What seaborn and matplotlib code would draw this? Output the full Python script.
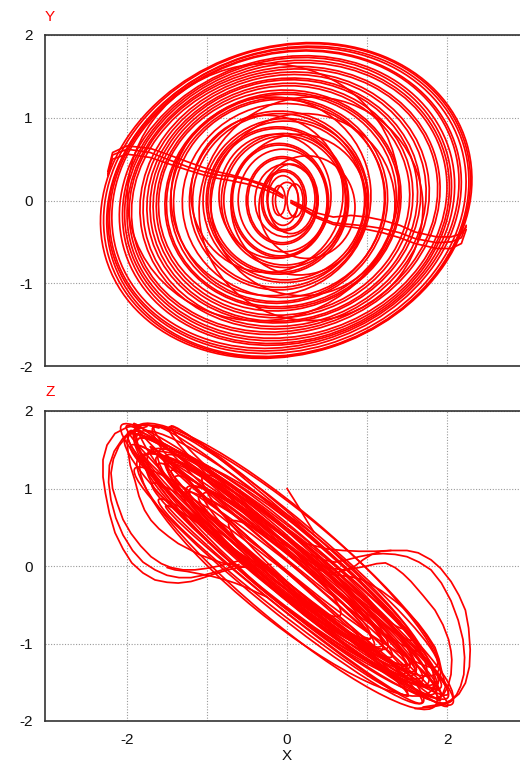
import matplotlib
matplotlib.use("Agg")
import matplotlib.pyplot as plt
from matplotlib.patches import Ellipse
import seaborn as sns

# ---------------- data ----------------
# Y vs X panel: orbit loops  (centre x, centre y, semi-axis a, semi-axis b, tilt deg)
yx_cx = [-0.01, 0.00, 0.01, 0.00, -0.02, -0.02, 0.00, 0.00, 0.00, 0.00,
         -0.03, -0.03, -0.03, -0.03, -0.04, -0.04, -0.05, -0.05, -0.09, -0.06,
         -0.07, -0.10, -0.10, -0.04, -0.10, -0.10, -0.02, -0.02, -0.11, -0.11,
         -0.03, -0.03, -0.09, -0.09, -0.05, -0.06, -0.06, -0.01, -0.04, -0.04,
         -0.05, 0.00, 0.15, 0.20, -0.20, -0.15, 0.10, -0.10, 0.05, 0.25,
         -0.25, 0.30, -0.30]
yx_cy = [0.00, 0.00, -0.01, 0.00, 0.00, 0.01, 0.00, 0.00, 0.00, 0.00,
         0.00, 0.00, 0.00, 0.00, 0.00, 0.00, 0.00, 0.00, 0.00, 0.00,
         0.00, 0.00, 0.00, 0.00, 0.00, 0.00, 0.00, 0.00, 0.00, 0.00,
         0.00, 0.00, 0.00, 0.00, 0.00, 0.00, 0.00, 0.00, 0.00, 0.00,
         0.00, 0.00, -0.05, -0.05, 0.05, 0.05, 0.00, 0.00, 0.02, -0.08,
         0.08, -0.10, 0.10]
yx_a = [2.36, 2.33, 2.30, 2.27, 2.23, 2.20, 2.12, 2.08, 2.05, 2.02,
        1.96, 1.93, 1.82, 1.78, 1.72, 1.68, 1.63, 1.59, 1.52, 1.47,
        1.44, 1.36, 1.32, 1.27, 1.12, 1.08, 1.03, 0.99, 0.88, 0.85,
        0.79, 0.76, 0.61, 0.59, 0.56, 0.45, 0.43, 0.39, 0.28, 0.26,
        0.19, 0.145, 0.85, 1.15, 1.25, 0.70, 0.10, 0.08, 0.30, 0.60,
        0.95, 1.40, 1.70]
yx_b = [1.86, 1.85, 1.83, 1.81, 1.78, 1.76, 1.72, 1.70, 1.67, 1.64,
        1.60, 1.57, 1.54, 1.51, 1.47, 1.45, 1.41, 1.38, 1.33, 1.30,
        1.28, 1.24, 1.22, 1.17, 1.08, 1.05, 0.99, 0.96, 0.89, 0.87,
        0.81, 0.78, 0.69, 0.67, 0.62, 0.53, 0.51, 0.44, 0.37, 0.35,
        0.30, 0.22, 0.85, 1.10, 1.20, 0.75, 0.20, 0.18, 0.42, 0.62,
        0.95, 1.35, 1.55]
yx_tilt = [17, 17, 17, 16, 16, 16, 15, 15, 14, 14,
           13, 13, 12, 12, 11, 11, 10, 10, 9, 9,
           9, 8, 8, 7, 6, 6, 5, 5, 4, 4,
           4, 4, 3, 3, 2, 0, 0, 0, 0, 0,
           0, 0, 0, 5, 6, 0, 0, 0, 0, 0,
           3, 8, 10]

# Y vs X panel: reinjection strands
yx_s_left_x = [-2.24, -2.18, -2.00, -1.71, -1.50, -1.25, -1.05, -0.88, -0.70, -0.50, -0.30, -0.15, -0.05]
yx_s_left_y = [0.30, 0.55, 0.62, 0.58, 0.50, 0.41, 0.35, 0.31, 0.29, 0.25, 0.18, 0.11, 0.05]
yx_s_left2_y = [0.32, 0.50, 0.56, 0.52, 0.45, 0.37, 0.31, 0.27, 0.24, 0.20, 0.14, 0.08, 0.03]
yx_s_left3_y = [0.35, 0.58, 0.66, 0.63, 0.56, 0.47, 0.40, 0.35, 0.31, 0.26, 0.20, 0.13, 0.06]
yx_s_right_x = [2.24, 2.18, 2.05, 1.87, 1.60, 1.41, 1.20, 1.00, 0.80, 0.58, 0.37, 0.16, 0.05]
yx_s_right_y = [-0.30, -0.45, -0.50, -0.51, -0.46, -0.39, -0.34, -0.31, -0.29, -0.27, -0.19, -0.07, -0.02]
yx_s_right2_y = [-0.32, -0.40, -0.44, -0.44, -0.38, -0.30, -0.24, -0.20, -0.18, -0.20, -0.15, -0.05, 0.00]
yx_s_right3_y = [-0.35, -0.52, -0.58, -0.58, -0.52, -0.45, -0.39, -0.35, -0.32, -0.29, -0.21, -0.09, -0.03]

# Z vs X panel: orbit loops along the band (centre x, centre z, semi-major, semi-minor, angle deg)
zx_cx = [0.00, 0.00, 0.02, 0.00, -0.03, 0.03, 0.00, 0.00, -0.05, 0.05,
         0.00, 0.00, 0.03, 0.00, 0.00, -0.02, 0.02, 0.10, -0.10, 0.15,
         -0.15, 0.20, -0.20, 0.10, -0.10, 0.00, -0.40, 0.40, -0.60, 0.60,
         0.00, 0.00, 0.00, 0.00, 0.10, -0.10, 0.00, 0.00, 0.05, -0.05,
         0.00, 0.00]
zx_cz = [0.02, 0.00, -0.03, 0.05, 0.00, -0.05, 0.04, -0.02, 0.06, -0.06,
         0.00, 0.03, -0.04, 0.05, -0.03, 0.02, 0.00, -0.10, 0.10, -0.12,
         0.12, -0.20, 0.15, 0.05, -0.05, 0.00, 0.35, -0.35, 0.50, -0.50,
         0.35, -0.35, 0.50, -0.45, 0.25, -0.25, 0.15, -0.10, 0.42, -0.40,
         0.20, -0.20]
zx_major = [2.74, 2.70, 2.66, 2.62, 2.58, 2.55, 2.50, 2.45, 2.40, 2.35,
            2.30, 2.25, 2.20, 2.15, 2.10, 2.05, 2.00, 1.95, 1.90, 1.80,
            1.80, 1.70, 1.65, 1.60, 1.55, 1.40, 2.10, 2.10, 1.70, 1.70,
            2.20, 2.20, 1.95, 1.95, 2.35, 2.35, 2.50, 2.35, 2.05, 2.00,
            2.45, 2.45]
zx_minor = [0.35, 0.20, 0.42, 0.10, 0.30, 0.25, 0.45, 0.15, 0.35, 0.40,
            0.05, 0.45, 0.28, 0.38, 0.18, 0.33, 0.25, 0.22, 0.20, 0.30,
            0.28, 0.16, 0.14, 0.25, 0.22, 0.20, 0.30, 0.30, 0.25, 0.25,
            0.20, 0.20, 0.12, 0.12, 0.30, 0.30, 0.55, 0.60, 0.18, 0.18,
            0.50, 0.50]
zx_angle = [-41, -42, -40, -43, -41, -39, -42, -40, -41, -39,
            -42, -40, -41, -42, -40, -43, -41, -40, -42, -39,
            -42, -40, -41, -44, -40, -42, -41, -40, -42, -39,
            -41, -40, -42, -39, -41, -40, -41, -40, -42, -39,
            -40, -41]

# Z vs X panel: end lobes and crossing strands
zx_left_lobes = [
    ([-1.60, -1.75, -1.86, -2.00, -2.15, -2.25, -2.30, -2.30, -2.27, -2.22, -2.15, -2.05, -1.94, -1.80,
      -1.65, -1.50, -1.36, -1.20, -1.07, -0.90, -0.74, -0.60, -0.44, -0.20],
     [1.78, 1.82, 1.82, 1.79, 1.71, 1.56, 1.37, 1.15, 0.94, 0.68, 0.43, 0.22, 0.04, -0.09,
      -0.18, -0.21, -0.22, -0.20, -0.16, -0.10, -0.05, -0.02, 0.00, 0.02]),
    ([-1.75, -1.92, -2.05, -2.16, -2.22, -2.23, -2.20, -2.14, -2.05, -1.93, -1.80, -1.65, -1.50, -1.35,
      -1.20, -1.05, -0.90, -0.75, -0.60],
     [1.80, 1.75, 1.65, 1.48, 1.30, 1.08, 0.85, 0.62, 0.40, 0.20, 0.05, -0.05, -0.12, -0.15,
      -0.15, -0.12, -0.08, -0.03, 0.02]),
    ([-1.85, -2.00, -2.10, -2.17, -2.20, -2.18, -2.12, -2.05, -1.95, -1.83, -1.70, -1.57, -1.45, -1.30,
      -1.15, -1.00, -0.85, -0.70, -0.55],
     [1.78, 1.68, 1.55, 1.38, 1.20, 1.00, 0.80, 0.60, 0.42, 0.26, 0.12, 0.03, -0.02, -0.05,
      -0.05, -0.03, 0.00, 0.04, 0.08]),
    ([-1.95, -2.00, -1.99, -1.96, -1.90, -1.85, -1.78, -1.70, -1.60, -1.48, -1.36, -1.23, -1.10, -0.95,
      -0.81, -0.65, -0.50],
     [1.75, 1.62, 1.50, 1.30, 1.10, 0.90, 0.72, 0.59, 0.48, 0.38, 0.29, 0.22, 0.15, 0.09,
      0.04, 0.01, -0.02]),
    ([-1.90, -1.86, -1.80, -1.73, -1.65, -1.53, -1.40, -1.28, -1.15, -1.02, -0.90, -0.78, -0.65, -0.52,
      -0.40],
     [1.72, 1.55, 1.35, 1.15, 0.98, 0.86, 0.75, 0.67, 0.59, 0.50, 0.40, 0.30, 0.20, 0.12,
      0.05]),
    ([-1.85, -1.76, -1.65, -1.55, -1.44, -1.32, -1.20, -1.07, -0.94, -0.83, -0.72, -0.62, -0.52, -0.41,
      -0.30],
     [1.70, 1.52, 1.35, 1.20, 1.07, 0.97, 0.88, 0.80, 0.72, 0.64, 0.55, 0.46, 0.37, 0.28,
      0.20]),
    ([-1.50, -1.40, -1.25, -1.10, -0.95, -0.80, -0.65, -0.50, -0.38, -0.25],
     [-0.02, -0.05, -0.07, -0.10, -0.13, -0.17, -0.22, -0.28, -0.34, -0.40]),
]
zx_right_lobes = [
    ([0.20, 0.35, 0.50, 0.70, 0.90, 1.10, 1.30, 1.50, 1.64, 1.80, 1.92, 2.05, 2.15, 2.23,
      2.27, 2.29, 2.28, 2.23, 2.15, 2.06, 1.95, 1.81, 1.60],
     [0.30, 0.26, 0.22, 0.20, 0.19, 0.19, 0.20, 0.20, 0.17, 0.08, -0.03, -0.20, -0.38, -0.57,
      -0.80, -1.08, -1.30, -1.51, -1.65, -1.73, -1.79, -1.82, -1.84]),
    ([0.30, 0.45, 0.60, 0.75, 0.90, 1.05, 1.20, 1.35, 1.50, 1.65, 1.80, 1.93, 2.05, 2.14,
      2.20, 2.22, 2.21, 2.17, 2.12, 2.05, 1.95, 1.70],
     [0.15, 0.08, 0.05, 0.08, 0.12, 0.15, 0.16, 0.15, 0.12, 0.05, -0.05, -0.22, -0.45, -0.70,
      -0.95, -1.18, -1.40, -1.55, -1.66, -1.73, -1.78, -1.82]),
    ([0.30, 0.50, 0.70, 0.85, 1.00, 1.12, 1.23, 1.35, 1.45, 1.55, 1.70, 1.85, 1.95, 2.02,
      2.05, 2.06, 2.05, 2.01, 1.96, 1.90],
     [0.05, -0.02, -0.05, -0.03, 0.00, 0.03, 0.04, -0.02, -0.10, -0.20, -0.38, -0.57, -0.76, -0.95,
      -1.10, -1.21, -1.40, -1.56, -1.65, -1.72]),
    ([0.50, 0.65, 0.80, 0.92, 1.02, 1.18, 1.35, 1.50, 1.64, 1.75, 1.85, 1.90, 1.93, 1.96,
      1.98, 1.95, 1.90],
     [-0.10, -0.12, -0.14, -0.17, -0.22, -0.32, -0.45, -0.58, -0.74, -0.89, -1.05, -1.20, -1.34, -1.45,
      -1.56, -1.64, -1.70]),
    ([0.20, 0.30, 0.40, 0.50, 0.60, 0.72, 0.85, 0.95, 1.06, 1.18, 1.30],
     [0.05, 0.00, -0.05, -0.08, -0.09, -0.06, 0.00, 0.08, 0.15, 0.19, 0.20]),
]
zx_start_x = [0.00, 0.08, 0.17, 0.25, 0.335]
zx_start_z = [1.00, 0.87, 0.72, 0.58, 0.44]

# axes ticks
x_ticks = [-2, 0, 2]
x_grid = [-2, -1, 0, 1, 2]
v_ticks = [-2, -1, 0, 1, 2]

# ---------------- drawing ----------------
sns.set_theme(style="white")
plt.rcParams["font.family"] = ["Liberation Sans", "DejaVu Sans"]
plt.rcParams["axes.unicode_minus"] = False

RED = "#ff0000"
LW = 1.25

fig = plt.figure(figsize=(5.2, 7.63), dpi=100)
ax1 = fig.add_axes([45 / 520, 1 - 366 / 763, 482 / 520, 331 / 763])
ax2 = fig.add_axes([45 / 520, 1 - 721 / 763, 482 / 520, 310 / 763])


def style(ax, show_x):
    ax.set_xlim(-3.025, 3.0)
    ax.set_ylim(-2, 2)
    ax.set_xticks(x_ticks)
    ax.set_xticks(x_grid, minor=True)
    ax.set_yticks(v_ticks)
    ax.grid(True, which="both", color="#9a9a9a", linestyle=(0, (1, 1.5)), linewidth=0.8)
    ax.tick_params(which="both", length=0, labelsize=11, colors="#111111", pad=9)
    if not show_x:
        ax.tick_params(axis="x", labelbottom=False)
    for side in ["top", "left", "bottom", "right"]:
        ax.spines[side].set_color("#333333")
        ax.spines[side].set_linewidth(1.2)
    ax.set_facecolor("white")
    ax.set_axisbelow(True)


style(ax1, False)
style(ax2, True)

# Y vs X
for cx, cy, a, b, t in zip(yx_cx, yx_cy, yx_a, yx_b, yx_tilt):
    ax1.add_patch(Ellipse((cx, cy), 2 * a, 2 * b, angle=t, fill=False, ec=RED, lw=LW))
for ys in (yx_s_left_y, yx_s_left2_y, yx_s_left3_y):
    sns.lineplot(x=yx_s_left_x, y=ys, sort=False, estimator=None, color=RED, lw=LW, ax=ax1)
for ys in (yx_s_right_y, yx_s_right2_y, yx_s_right3_y):
    sns.lineplot(x=yx_s_right_x, y=ys, sort=False, estimator=None, color=RED, lw=LW, ax=ax1)

# Z vs X
for cx, cz, M, m, t in zip(zx_cx, zx_cz, zx_major, zx_minor, zx_angle):
    ax2.add_patch(Ellipse((cx, cz), 2 * M, 2 * m, angle=t, fill=False, ec=RED, lw=LW))
for xs, zs in zx_left_lobes + zx_right_lobes:
    sns.lineplot(x=xs, y=zs, sort=False, estimator=None, color=RED, lw=LW, ax=ax2)
sns.lineplot(x=zx_start_x, y=zx_start_z, sort=False, estimator=None, color=RED, lw=LW, ax=ax2)

for ax in (ax1, ax2):
    ax.set_xlabel("")
    ax.set_ylabel("")

fig.text(50 / 520, 1 - 17 / 763, "Y", color=RED, fontsize=11, ha="center", va="center")
fig.text(50 / 520, 1 - 392 / 763, "Z", color=RED, fontsize=11, ha="center", va="center")
fig.text(287 / 520, 1 - 756 / 763, "X", color="#111111", fontsize=11, ha="center", va="center")

fig.savefig("out.png", dpi=100)
